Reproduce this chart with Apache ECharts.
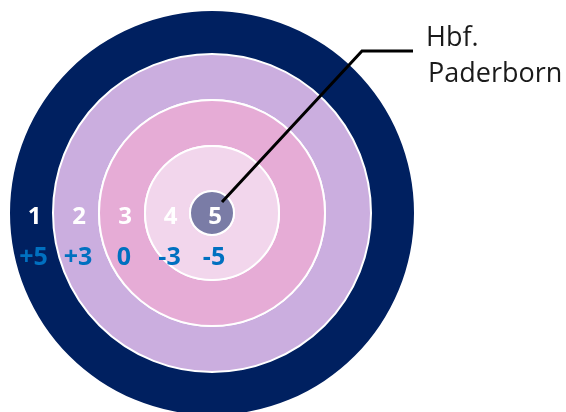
<!DOCTYPE html>
<html>
<head>
<meta charset="utf-8">
<script src="https://cdn.jsdelivr.net/npm/echarts@6/dist/echarts.min.js"></script>
<style>
html,body{margin:0;padding:0;background:#fff;}
#chart{width:566px;height:412px;}
</style>
</head>
<body>
<div id="chart"></div>
<script>
// Data
var ringLabels = ['1', '2', '3', '4', '5'];
var ringScores = ['+5', '+3', '0', '-3', '-5'];
var ringValues = [1, 1, 1, 1, 1];
var stationLines = ['Hbf.', 'Paderborn'];

// Styles / layout
var ringColors = ['#002060', '#CBAEDF', '#E6ACD6', '#F2D6EC', '#7A7CA6'];
var ringRadii = [[159, 202], [113, 159], [67, 113], [22, 67], [0, 22]];
var center = [212, 213];

var series = ringLabels.map(function (lab, i) {
  return {
    type: 'pie',
    center: center,
    radius: ringRadii[i],
    startAngle: 0,
    silent: true,
    animation: false,
    emphasis: { disabled: true },
    itemStyle: {
      color: ringColors[i],
      borderColor: '#ffffff',
      borderWidth: i === 0 ? 0 : 2
    },
    labelLine: { show: false },
    label: { show: false },
    data: [{ value: ringValues[i], name: lab }]
  };
});

var graphics = [
  {
    type: 'polyline',
    z: 100,
    shape: { points: [[222, 202], [362, 51], [413, 51]] },
    style: { stroke: '#000000', lineWidth: 3, fill: null }
  },
  {
    type: 'text', z: 100, x: 426, y: 38,
    style: { text: stationLines[0], fontSize: 27, fontFamily: 'Open Sans', fill: '#1a1a1a', verticalAlign: 'middle', align: 'left' }
  },
  {
    type: 'text', z: 100, x: 428, y: 74,
    style: { text: stationLines[1], fontSize: 27, fontFamily: 'Open Sans', fill: '#1a1a1a', verticalAlign: 'middle', align: 'left' }
  }
];

ringLabels.forEach(function (lab, i) {
  var r = ringRadii[i];
  var midR = i === ringLabels.length - 1 ? 0 : (r[0] + r[1]) / 2;
  var x = center[0] - midR + 3;
  graphics.push({
    type: 'text', z: 90, x: x, y: center[1] + 4,
    style: { text: lab, fontSize: 24, fontWeight: 'bold', fontFamily: 'Open Sans', fill: '#ffffff', align: 'center', verticalAlign: 'middle' }
  });
  graphics.push({
    type: 'text', z: 90, x: x - 1, y: center[1] + 45,
    style: { text: ringScores[i], fontSize: 25, fontWeight: 'bold', fontFamily: 'Open Sans', fill: '#0070C0', align: 'center', verticalAlign: 'middle' }
  });
});

var chart = echarts.init(document.getElementById('chart'), null, { renderer: 'canvas' });
chart.setOption({
  backgroundColor: '#ffffff',
  animation: false,
  series: series,
  graphic: graphics
});
</script>
</body>
</html>
